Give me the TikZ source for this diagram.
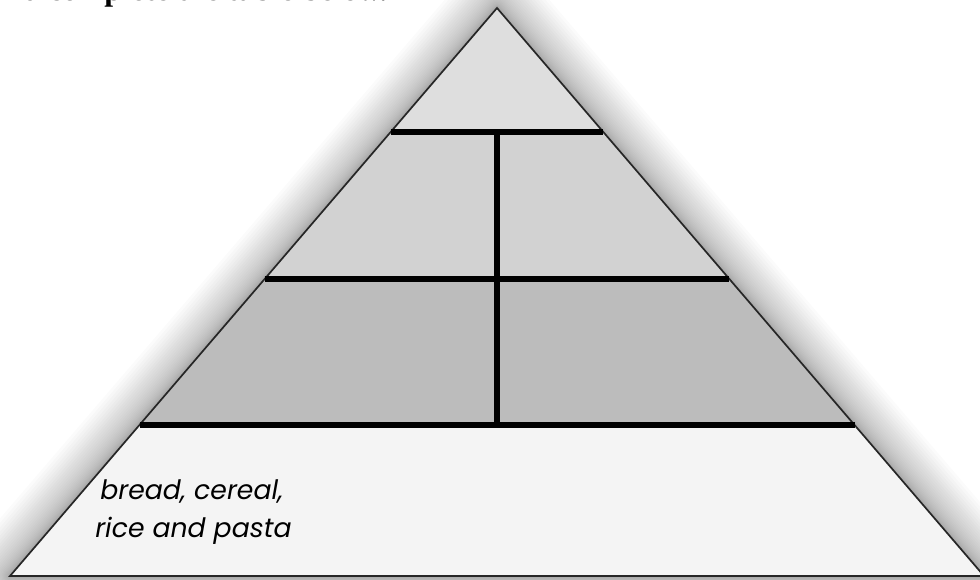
\documentclass[tikz,border=0pt]{standalone}
\usepackage{fontspec}
\setmainfont{Liberation Serif}
\newfontfamily\labelfont{Poppins}
\usepackage{tikz}
\usetikzlibrary{calc}
\definecolor{topc}{HTML}{DEDEDE}
\definecolor{midc}{HTML}{D2D2D2}
\definecolor{lowc}{HTML}{BCBCBC}
\definecolor{basec}{HTML}{F4F4F4}
\tikzset{
  divider/.style={line width=3.9pt, black},
  rim/.style={line width=1.2pt, black!85, line join=miter},
  glow/.style={black, opacity=0.016, line join=round},
  foodlabel/.style={font=\labelfont\itshape\fontsize{19}{22}\selectfont, anchor=base west, inner sep=0pt},
}

\begin{document}
\begin{tikzpicture}[x=0.025cm, y=-0.025cm]
  \useasboundingbox (0,0) rectangle (980,579);
  % corners of the pyramid
  \coordinate (apex) at (497,8);
  \coordinate (bl) at (10,576);
  \coordinate (br) at (984,576);
  % band edges
  \coordinate (l1) at (390.7,132); \coordinate (r1) at (603.3,132);
  \coordinate (l2) at (264.6,279); \coordinate (r2) at (729.4,279);
  \coordinate (l3) at (139.5,425); \coordinate (r3) at (854.5,425);
  \coordinate (m1) at (497,132); \coordinate (m3) at (497,425);

  % soft shadow round the sides
  \foreach \w in {1,...,30}
    \draw[glow, line width=\w*\w*0.0025cm] (apex) -- (bl) -- (br) -- cycle;

  % bands
  \fill[topc] (apex) -- (l1) -- (r1) -- cycle;
  \fill[midc] (l1) -- (r1) -- (r2) -- (l2) -- cycle;
  \fill[lowc] (l2) -- (r2) -- (r3) -- (l3) -- cycle;
  \fill[basec] (l3) -- (r3) -- (br) -- (bl) -- cycle;
  \draw[rim] (apex) -- (bl) -- (br) -- cycle;

  \draw[divider] (l1) -- (r1);
  \draw[divider] (l2) -- (r2);
  \draw[divider] (l3) -- (r3);
  \draw[divider] (m1) -- (m3);

  \node[foodlabel] (grain1) at (100,499) {bread, cereal,};
  \node[foodlabel] (grain2) at (95,537) {rice and pasta};

  % instruction line, cut by the top edge
  \node[font=\bfseries\fontsize{22.5}{27}\selectfont, anchor=base west, inner sep=0pt] (task) at (-11,0.6) {and complete the table below.};
\end{tikzpicture}
\end{document}
